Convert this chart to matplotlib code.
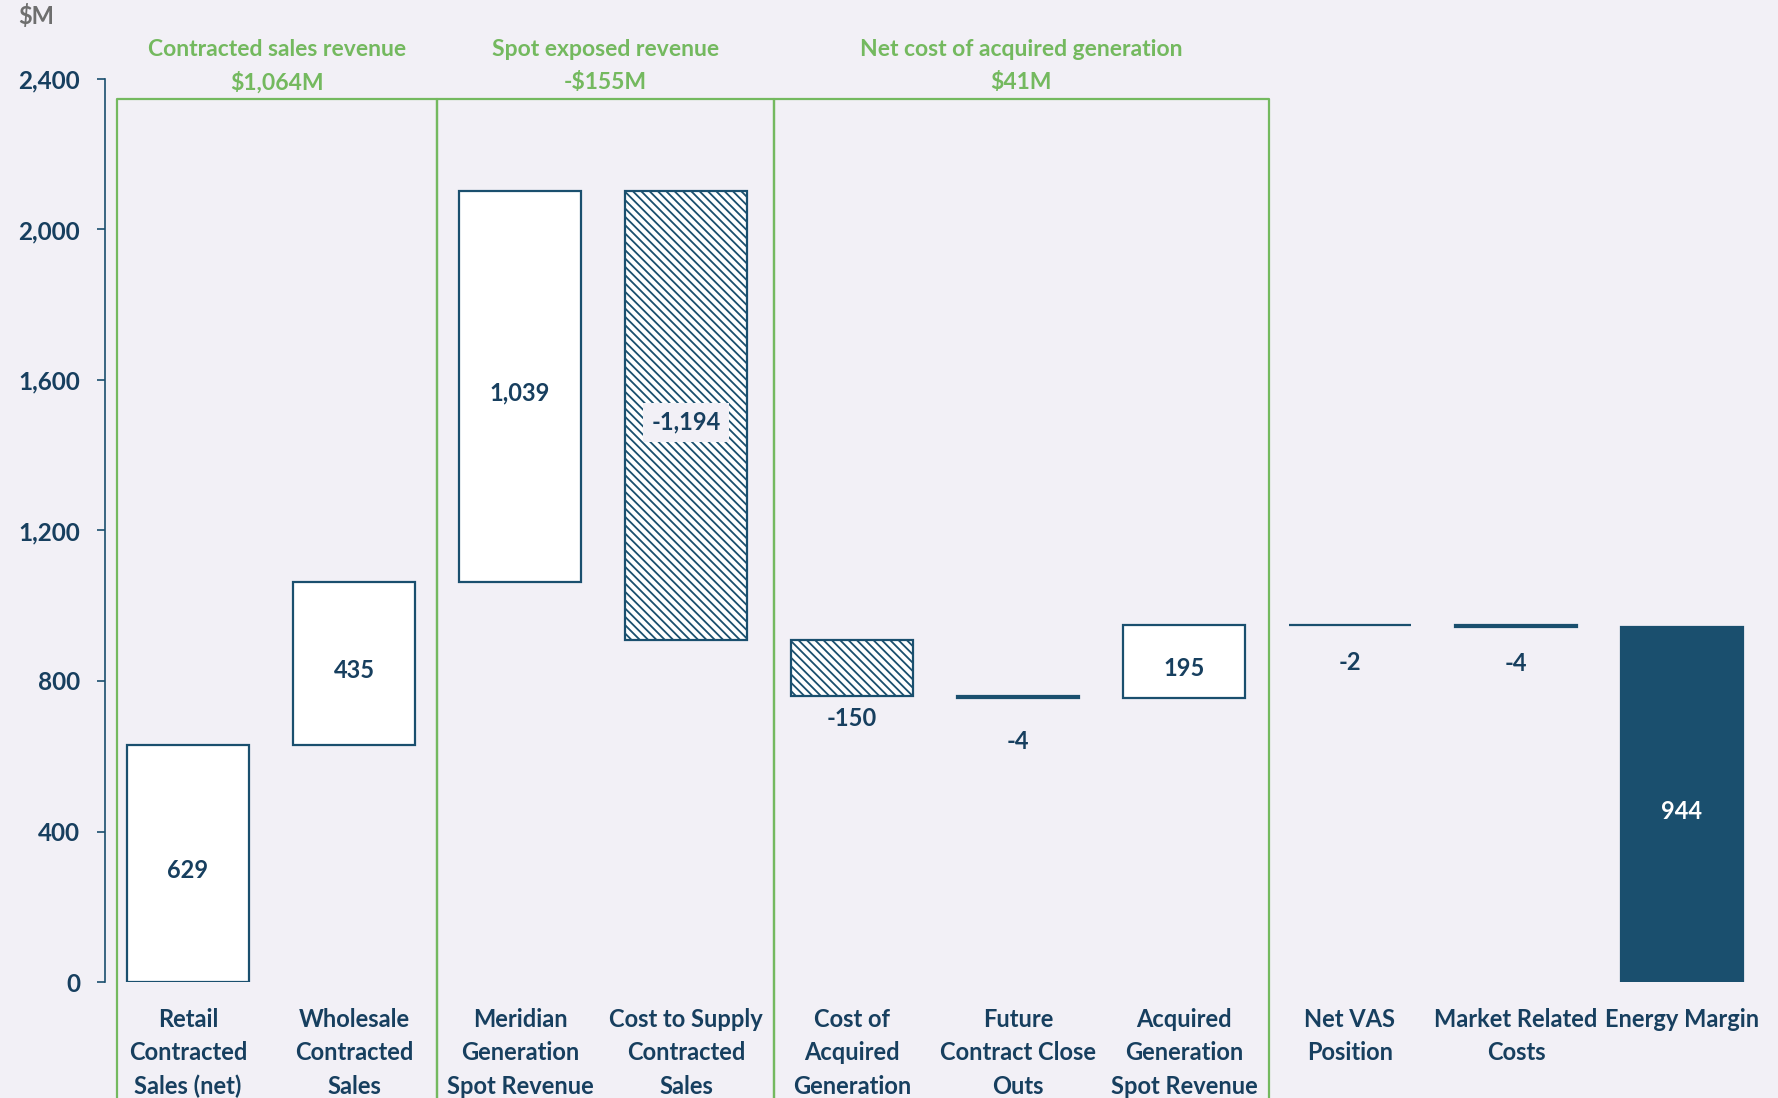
import matplotlib.pyplot as plt
import numpy as np

# ==========================================================
# Style
# ==========================================================

plt.rcParams["font.family"] = ["Lato", "DejaVu Sans"]
plt.rcParams["hatch.linewidth"] = 1.3

BG = "#F2F0F6"
NAVY = "#1A4F6E"
TEXT = "#173F5F"
GREEN = "#74B95F"
GREY = "#6E6E6E"

# ==========================================================
# Data
# ==========================================================

CATEGORIES = [
    "Retail\nContracted\nSales (net)",
    "Wholesale\nContracted\nSales",
    "Meridian\nGeneration\nSpot Revenue",
    "Cost to Supply\nContracted\nSales",
    "Cost of\nAcquired\nGeneration",
    "Future\nContract Close\nOuts",
    "Acquired\nGeneration\nSpot Revenue",
    "Net VAS\nPosition",
    "Market Related\nCosts",
    "Energy Margin",
]

VALUES = [629, 435, 1039, -1194, -150, -4, 195, -2, -4, 944]
VALUE_LABELS = ["629", "435", "1,039", "-1,194", "-150", "-4", "195", "-2", "-4", "944"]
IS_TOTAL = [False] * 9 + [True]

GROUP_TITLES = ["Contracted sales revenue", "Spot exposed revenue",
                "Net cost of acquired generation"]
GROUP_TOTALS = ["$1,064M", "-$155M", "$41M"]
GROUP_SPANS = [(0, 1), (2, 3), (4, 6)]

Y_TICKS = [0, 400, 800, 1200, 1600, 2000, 2400]
Y_TICK_LABELS = ["0", "400", "800", "1,200", "1,600", "2,000", "2,400"]


def main():
    fig = plt.figure(figsize=(17.78, 10.98), dpi=100, facecolor=BG)
    ax = fig.add_axes([105 / 1778, 116 / 1098, 1673 / 1778, 903 / 1098])
    ax.set_facecolor(BG)

    x = np.arange(len(VALUES))
    width = 0.735

    # waterfall bottoms / tops
    bottoms, tops = [], []
    running = 0
    for v, total in zip(VALUES, IS_TOTAL):
        if total:
            bottoms.append(0)
            tops.append(v)
        else:
            bottoms.append(min(running, running + v))
            tops.append(max(running, running + v))
            running += v
    bottoms = np.array(bottoms, dtype=float)
    heights = np.array(tops, dtype=float) - bottoms

    for i in range(len(VALUES)):
        if IS_TOTAL[i]:
            fc, hatch = NAVY, None
        elif VALUES[i] < 0 and abs(VALUES[i]) > 50:
            fc, hatch = "white", "\\\\\\\\"
        else:
            fc, hatch = "white", None
        ax.bar(x[i], heights[i], width, bottom=bottoms[i], color=fc,
               edgecolor=NAVY, linewidth=1.6, hatch=hatch, zorder=3)

    # value labels
    below_offsets = {4: 22, 5: 44, 7: 37, 8: 37}
    for i, lab in enumerate(VALUE_LABELS):
        if i in below_offsets:
            ax.annotate(lab, (x[i], bottoms[i]), xytext=(0, -below_offsets[i]),
                        textcoords="offset pixels", ha="center", va="center",
                        fontsize=17, fontweight="bold", color=TEXT, zorder=5)
        else:
            kw = {}
            if i == 3:
                kw["bbox"] = dict(boxstyle="square,pad=0.35", fc=BG, ec="none")
            ax.annotate(lab, (x[i], bottoms[i] + heights[i] / 2),
                        xytext=(0, -7), textcoords="offset pixels",
                        ha="center", va="center", fontsize=17,
                        fontweight="bold",
                        color="white" if IS_TOTAL[i] else TEXT, zorder=5, **kw)

    # group boxes
    box_top = 2347
    box_bot = -700
    for (a, b), title, total in zip(GROUP_SPANS, GROUP_TITLES, GROUP_TOTALS):
        left = a - 0.43 if a == 0 else a - 0.5
        if a == 4:
            left = a - 0.47
        right = b + 0.5 if b < 6 else b + 0.51
        if b == 3:
            right = b + 0.53
        ax.plot([left, left, right, right], [box_bot, box_top, box_top, box_bot],
                color=GREEN, linewidth=1.6, clip_on=False, zorder=2)
        cx = (left + right) / 2
        ax.text(cx, 2479, title, ha="center", va="center", fontsize=16.5,
                fontweight="bold", color=GREEN)
        ax.text(cx, 2391, total, ha="center", va="center", fontsize=16.5,
                fontweight="bold", color=GREEN)

    # axes
    ax.set_xlim(-0.5, -0.5 + 1673 / 166)
    ax.set_ylim(0, 2400)
    for s in ["top", "right", "bottom"]:
        ax.spines[s].set_visible(False)
    ax.spines["left"].set_color(NAVY)
    ax.spines["left"].set_linewidth(1.2)
    ax.set_yticks(Y_TICKS)
    ax.set_yticklabels(Y_TICK_LABELS, fontsize=17.5, fontweight="bold", color=TEXT)
    ax.tick_params(axis="y", length=6, width=1.2, color=NAVY, pad=12)
    ax.set_xticks(x)
    ax.set_xticklabels(CATEGORIES, fontsize=17, fontweight="bold",
                       color=TEXT, linespacing=1.53, va="top")
    ax.tick_params(axis="x", length=0, pad=19)

    fig.text(36 / 1778, 1 - 16 / 1098, "$M", ha="center", va="center",
             fontsize=17, fontweight="bold", color=GREY)

    fig.savefig("out.png", dpi=100, facecolor=BG)


if __name__ == "__main__":
    main()
